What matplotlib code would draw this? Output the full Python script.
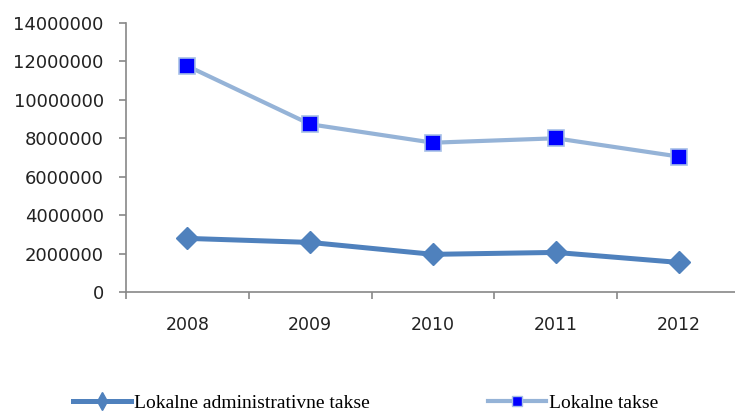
import numpy as np
import matplotlib
matplotlib.use("Agg")
from matplotlib import pyplot as plt
from matplotlib.lines import Line2D
from matplotlib.ticker import MultipleLocator, FixedLocator, FuncFormatter

years = ["2008", "2009", "2010", "2011", "2012"]
admin_takse = [2790000, 2580000, 1960000, 2060000, 1540000]
lokalne_takse = [11760000, 8730000, 7770000, 8000000, 7050000]
series_labels = ["Lokalne administrativne takse", "Lokalne takse"]

dark_blue = "#4F81BD"
light_blue = "#95B3D7"

fig = plt.figure(figsize=(7.35, 4.12), dpi=100)
# plot area runs a bit past the right edge of the figure
ax = fig.add_axes([126 / 735, 1 - 292 / 412, 614 / 735, 269 / 412])

x = np.arange(len(years))
ax.plot(x, admin_takse, color=dark_blue, lw=3.6, marker="D", ms=11,
        mfc=dark_blue, mec=dark_blue, solid_joinstyle="round", zorder=3)
ax.plot(x, lokalne_takse, color=light_blue, lw=3.0, marker="s", ms=11,
        mfc="#0000FF", mec="#A7C0E8", mew=1.2, solid_joinstyle="round", zorder=3)

ax.set_xlim(-0.5, len(years) - 0.5)
ax.set_ylim(0, 14000000)
ax.yaxis.set_major_locator(MultipleLocator(2000000))
ax.yaxis.set_major_formatter(FuncFormatter(lambda v, p: f"{int(v)}"))

# category labels in the middle, ticks on the boundaries
ax.set_xticks(x)
ax.set_xticklabels(years)
ax.xaxis.set_minor_locator(FixedLocator(np.arange(-0.5, len(years), 1.0)))
ax.tick_params(axis="x", which="major", length=0, pad=17, labelsize=12.5, labelcolor="#222222")
ax.tick_params(axis="x", which="minor", length=5, width=1.2, color="#888888")
ax.tick_params(axis="y", length=5, width=1.2, color="#888888", pad=11,
               labelsize=13, labelcolor="#222222")

for side in ["top", "right"]:
    ax.spines[side].set_visible(False)
for side in ["left", "bottom"]:
    ax.spines[side].set_color("#888888")
    ax.spines[side].set_linewidth(1.2)

# legend uses smaller markers than the plot, one box per series
handles = [
    Line2D([], [], color=dark_blue, lw=3.6, marker="d", ms=9, mfc=dark_blue, mec=dark_blue),
    Line2D([], [], color=light_blue, lw=3.0, marker="s", ms=6.5, mfc="#0000FF", mec="#A7C0E8", mew=1.0),
]
legend_x = [73 / 735, 488 / 735]
for h, lab, lx in zip(handles, series_labels, legend_x):
    fig.legend([h], [lab], loc="center left", bbox_to_anchor=(lx, 9 / 412),
               frameon=False, borderpad=0, borderaxespad=0,
               handlelength=3.0, handletextpad=0.16,
               prop={"family": "Liberation Serif", "size": 14})

fig.savefig("out.png", dpi=100)
